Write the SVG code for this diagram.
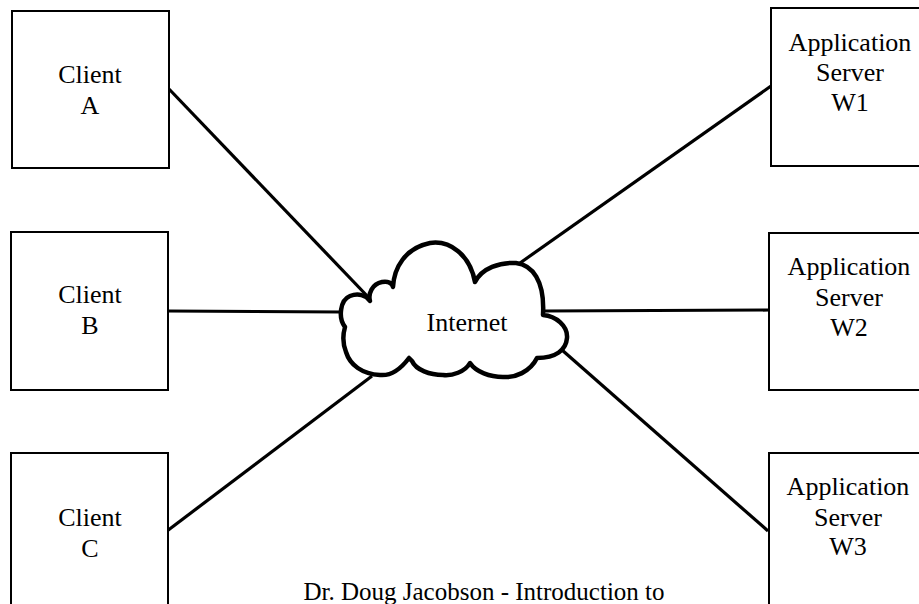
<svg xmlns="http://www.w3.org/2000/svg" width="919" height="604" viewBox="0 0 919 604">
<style>
.box{fill:#fff;stroke:#000;stroke-width:2}
text{font-family:'Liberation Serif',serif;font-size:26px;fill:#000;text-anchor:middle}
.conn line{stroke:#000;stroke-width:3.2;stroke-linecap:butt}
.cloud{fill:#fff;stroke:#000;stroke-width:4.5;stroke-linejoin:round}
</style>
<rect width="919" height="604" fill="#fff"/>
<g id="connectors" class="conn">
<line x1="169" y1="89" x2="372" y2="301"/>
<line x1="168" y1="311" x2="342" y2="312"/>
<line x1="167" y1="531" x2="372" y2="376"/>
<line x1="771" y1="86" x2="520" y2="263"/>
<line x1="545" y1="311" x2="769" y2="310"/>
<line x1="562" y1="350" x2="768" y2="531"/>
</g>
<g id="clientA"><rect class="box" x="12" y="11" width="157" height="157"/><text x="90" y="83">Client</text><text x="90" y="114">A</text></g>
<g id="clientB"><rect class="box" x="11" y="232" width="157" height="158"/><text x="90" y="303">Client</text><text x="90" y="334">B</text></g>
<g id="clientC"><rect class="box" x="11" y="453" width="157" height="160"/><text x="90" y="526">Client</text><text x="90" y="557">C</text></g>
<g id="serverW1"><rect class="box" x="771" y="8" width="160" height="158"/><text x="850" y="51">Application</text><text x="850" y="81">Server</text><text x="850" y="111">W1</text></g>
<g id="serverW2"><rect class="box" x="769" y="233" width="160" height="157"/><text x="849" y="275">Application</text><text x="849" y="306">Server</text><text x="849" y="336">W2</text></g>
<g id="serverW3"><rect class="box" x="769" y="453" width="160" height="160"/><text x="848" y="495">Application</text><text x="848" y="526">Server</text><text x="848" y="555">W3</text></g>
<g id="internet">
<path class="cloud" d="M370,301 C368,294 372,284 382,282 C388,281 392,283 393,287 C394,268 405,248 430,243 C450,240 470,255 475,282 C482,268 500,262 516,263 C532,265 545,280 543,315 C556,316 568,326 567,338 C566,350 556,358 537,358 C530,372 515,378 503,377 C490,377 476,372 470,363 C465,372 452,376 443,375 C430,375 416,370 412,361 L409,358 C400,370 390,376 380,375 C362,374 350,365 346,352 C342,342 343,334 345,327 C338,318 340,300 350,296 C358,293 366,295 370,301 Z"/>
<text x="467" y="331">Internet</text>
</g>
<text x="484" y="600" style="font-size:25px">Dr. Doug Jacobson - Introduction to</text>
</svg>
